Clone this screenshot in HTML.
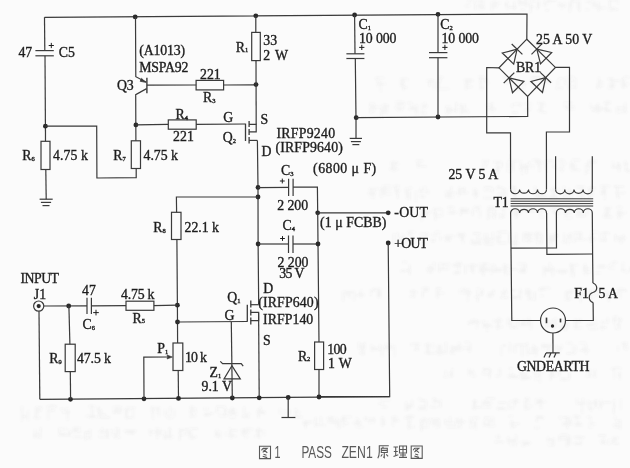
<!DOCTYPE html>
<html><head><meta charset="utf-8"><style>
html,body{margin:0;padding:0;background:#fbfbfb;}
svg{display:block;}
</style></head><body>
<svg width="630" height="468" viewBox="0 0 630 468">
<defs><filter id="bl" x="0" y="0" width="1" height="1"><feGaussianBlur stdDeviation="0.45"/></filter><filter id="gb" x="-0.05" y="-0.5" width="1.1" height="2"><feGaussianBlur stdDeviation="0.9"/></filter></defs>
<rect width="630" height="468" fill="#fbfbfb"/>
<g filter="url(#bl)">
<polyline points="44.5,17.3 527.0,14.0 526.8,39.2" fill="none" stroke="#3a3a3a" stroke-width="1.2"/>
<circle cx="135.2" cy="16.9" r="2.4" fill="#2a2a2a"/>
<circle cx="255.8" cy="15.8" r="2.4" fill="#2a2a2a"/>
<circle cx="354.6" cy="15.0" r="2.4" fill="#2a2a2a"/>
<circle cx="438.0" cy="14.3" r="2.4" fill="#2a2a2a"/>
<polyline points="44.5,17.3 44.8,50.6" fill="none" stroke="#3a3a3a" stroke-width="1.2"/>
<polyline points="35.4,50.6 53.8,50.6" fill="none" stroke="#3a3a3a" stroke-width="1.2"/>
<polyline points="35.4,55.8 53.8,55.8" fill="none" stroke="#3a3a3a" stroke-width="1.2"/>
<polyline points="45.0,55.8 45.5,141.3" fill="none" stroke="#3a3a3a" stroke-width="1.2"/>
<rect x="41.0" y="141.3" width="9.0" height="28.2" fill="none" stroke="#3a3a3a" stroke-width="1.2"/>
<polyline points="45.8,169.5 46.2,199.2" fill="none" stroke="#3a3a3a" stroke-width="1.2"/>
<polyline points="39.6,199.2 52.7,199.2" fill="none" stroke="#3a3a3a" stroke-width="1.2"/>
<polyline points="40.9,202.4 51.1,202.4" fill="none" stroke="#3a3a3a" stroke-width="1.2"/>
<polyline points="42.5,205.6 49.5,205.6" fill="none" stroke="#3a3a3a" stroke-width="1.2"/>
<circle cx="45.4" cy="126.2" r="2.4" fill="#2a2a2a"/>
<polyline points="45.4,126.2 96.7,126.0 96.9,178.0 136.2,177.6 136.2,168.5" fill="none" stroke="#3a3a3a" stroke-width="1.2"/>
<polyline points="135.5,16.9 135.8,76.7 146.5,82.3" fill="none" stroke="#3a3a3a" stroke-width="1.2"/>
<polyline points="146.9,77.8 146.9,93.2" fill="none" stroke="#3a3a3a" stroke-width="1.4"/>
<polyline points="146.6,88.6 135.7,94.6 135.9,140.8" fill="none" stroke="#3a3a3a" stroke-width="1.2"/>
<path d="M145.6,82.3 L140.2,81.3 L141.6,78.4 Z" fill="#3a3a3a" stroke="#3a3a3a" stroke-width="0.8"/>
<rect x="131.3" y="140.8" width="9.2" height="27.7" fill="none" stroke="#3a3a3a" stroke-width="1.2"/>
<circle cx="135.9" cy="124.9" r="2.4" fill="#2a2a2a"/>
<polyline points="147.0,85.1 196.1,85.0" fill="none" stroke="#3a3a3a" stroke-width="1.2"/>
<rect x="196.1" y="80.4" width="27.5" height="9.5" fill="none" stroke="#3a3a3a" stroke-width="1.2"/>
<polyline points="223.6,85.0 256.0,84.8" fill="none" stroke="#3a3a3a" stroke-width="1.2"/>
<circle cx="256.0" cy="84.6" r="2.4" fill="#2a2a2a"/>
<polyline points="135.9,124.9 168.0,124.4" fill="none" stroke="#3a3a3a" stroke-width="1.2"/>
<rect x="168.3" y="119.9" width="27.9" height="9.3" fill="none" stroke="#3a3a3a" stroke-width="1.2"/>
<polyline points="196.0,124.3 245.5,124.0" fill="none" stroke="#3a3a3a" stroke-width="1.2"/>
<polyline points="255.8,15.8 255.8,32.4" fill="none" stroke="#3a3a3a" stroke-width="1.2"/>
<rect x="251.7" y="32.4" width="8.6" height="28.2" fill="none" stroke="#3a3a3a" stroke-width="1.2"/>
<polyline points="256.0,60.6 256.2,124.4" fill="none" stroke="#3a3a3a" stroke-width="1.2"/>
<polyline points="245.5,123.7 245.5,141.0" fill="none" stroke="#3a3a3a" stroke-width="1.3"/>
<polyline points="249.1,121.0 249.1,127.0" fill="none" stroke="#3a3a3a" stroke-width="1.3"/>
<polyline points="249.1,129.0 249.1,135.0" fill="none" stroke="#3a3a3a" stroke-width="1.3"/>
<polyline points="249.1,137.0 249.1,143.6" fill="none" stroke="#3a3a3a" stroke-width="1.3"/>
<polyline points="249.1,124.4 256.2,124.4 256.2,131.8 249.1,131.8" fill="none" stroke="#3a3a3a" stroke-width="1.2"/>
<polyline points="249.1,140.4 257.4,140.4" fill="none" stroke="#3a3a3a" stroke-width="1.2"/>
<polyline points="257.4,140.4 258.0,187.4 258.1,244.0 258.7,304.6" fill="none" stroke="#3a3a3a" stroke-width="1.2"/>
<circle cx="258.0" cy="187.4" r="2.4" fill="#2a2a2a"/>
<circle cx="258.0" cy="197.0" r="2.4" fill="#2a2a2a"/>
<circle cx="258.1" cy="244.0" r="2.4" fill="#2a2a2a"/>
<polyline points="258.0,187.6 288.6,187.3" fill="none" stroke="#3a3a3a" stroke-width="1.2"/>
<polyline points="288.6,178.7 288.6,196.0" fill="none" stroke="#3a3a3a" stroke-width="1.2"/>
<polyline points="293.1,178.7 293.1,196.0" fill="none" stroke="#3a3a3a" stroke-width="1.2"/>
<polyline points="293.1,187.2 317.4,187.0 317.7,212.8" fill="none" stroke="#3a3a3a" stroke-width="1.2"/>
<circle cx="317.7" cy="212.8" r="2.4" fill="#2a2a2a"/>
<polyline points="317.7,212.8 388.2,212.8" fill="none" stroke="#3a3a3a" stroke-width="1.2"/>
<circle cx="388.2" cy="212.8" r="2.4" fill="#2a2a2a"/>
<polyline points="317.7,212.8 318.0,244.0 319.0,342.0" fill="none" stroke="#3a3a3a" stroke-width="1.2"/>
<rect x="314.6" y="342.0" width="9.0" height="27.5" fill="none" stroke="#3a3a3a" stroke-width="1.2"/>
<polyline points="319.0,369.5 319.0,396.7" fill="none" stroke="#3a3a3a" stroke-width="1.2"/>
<polyline points="258.1,244.0 288.5,244.0" fill="none" stroke="#3a3a3a" stroke-width="1.2"/>
<polyline points="288.5,235.5 288.5,253.0" fill="none" stroke="#3a3a3a" stroke-width="1.2"/>
<polyline points="293.0,235.5 293.0,253.0" fill="none" stroke="#3a3a3a" stroke-width="1.2"/>
<polyline points="293.0,244.0 318.0,244.0" fill="none" stroke="#3a3a3a" stroke-width="1.2"/>
<circle cx="318.0" cy="244.0" r="2.4" fill="#2a2a2a"/>
<circle cx="388.2" cy="243.0" r="2.4" fill="#2a2a2a"/>
<polyline points="388.2,243.0 389.7,396.7 319.0,396.7" fill="none" stroke="#3a3a3a" stroke-width="1.2"/>
<polyline points="258.0,197.0 176.4,197.0 176.6,212.3" fill="none" stroke="#3a3a3a" stroke-width="1.2"/>
<rect x="171.5" y="212.3" width="9.5" height="27.2" fill="none" stroke="#3a3a3a" stroke-width="1.2"/>
<polyline points="176.9,239.5 177.4,305.2 177.6,343.0" fill="none" stroke="#3a3a3a" stroke-width="1.2"/>
<circle cx="177.4" cy="305.2" r="2.4" fill="#2a2a2a"/>
<circle cx="177.5" cy="322.0" r="2.4" fill="#2a2a2a"/>
<rect x="173.0" y="343.0" width="9.8" height="27.5" fill="none" stroke="#3a3a3a" stroke-width="1.2"/>
<polyline points="178.2,370.5 178.5,398.0" fill="none" stroke="#3a3a3a" stroke-width="1.2"/>
<polyline points="177.5,322.0 247.3,321.5" fill="none" stroke="#3a3a3a" stroke-width="1.2"/>
<polyline points="247.3,304.7 247.3,321.8" fill="none" stroke="#3a3a3a" stroke-width="1.3"/>
<polyline points="250.8,300.4 250.8,307.5" fill="none" stroke="#3a3a3a" stroke-width="1.3"/>
<polyline points="250.8,309.5 250.8,315.5" fill="none" stroke="#3a3a3a" stroke-width="1.3"/>
<polyline points="250.8,317.5 250.8,324.4" fill="none" stroke="#3a3a3a" stroke-width="1.3"/>
<polyline points="250.8,304.7 258.6,304.7" fill="none" stroke="#3a3a3a" stroke-width="1.2"/>
<polyline points="250.8,312.4 258.6,312.4 258.6,320.6 250.8,320.6" fill="none" stroke="#3a3a3a" stroke-width="1.2"/>
<polyline points="258.6,312.4 259.2,398.0" fill="none" stroke="#3a3a3a" stroke-width="1.2"/>
<polyline points="39.8,399.3 389.7,396.7" fill="none" stroke="#3a3a3a" stroke-width="1.2"/>
<circle cx="70.5" cy="399.3" r="2.4" fill="#2a2a2a"/>
<circle cx="144.0" cy="398.8" r="2.4" fill="#2a2a2a"/>
<circle cx="178.5" cy="398.4" r="2.4" fill="#2a2a2a"/>
<circle cx="232.3" cy="398.0" r="2.4" fill="#2a2a2a"/>
<circle cx="259.2" cy="397.8" r="2.4" fill="#2a2a2a"/>
<circle cx="288.2" cy="397.5" r="2.4" fill="#2a2a2a"/>
<circle cx="319.0" cy="397.0" r="2.4" fill="#2a2a2a"/>
<polyline points="288.2,397.5 288.2,417.5" fill="none" stroke="#3a3a3a" stroke-width="1.2"/>
<polyline points="281.5,417.5 295.4,417.5" fill="none" stroke="#3a3a3a" stroke-width="1.2"/>
<circle cx="38.7" cy="306.1" r="5.1" fill="none" stroke="#3a3a3a" stroke-width="1.2"/>
<circle cx="38.7" cy="306.1" r="2.1" fill="#2a2a2a"/>
<polyline points="39.0,311.2 39.8,399.3" fill="none" stroke="#3a3a3a" stroke-width="1.2"/>
<polyline points="43.8,306.0 87.0,305.9" fill="none" stroke="#3a3a3a" stroke-width="1.2"/>
<polyline points="87.0,297.8 87.0,314.0" fill="none" stroke="#3a3a3a" stroke-width="1.2"/>
<polyline points="91.4,297.8 91.4,314.0" fill="none" stroke="#3a3a3a" stroke-width="1.2"/>
<polyline points="91.4,305.8 126.0,305.7" fill="none" stroke="#3a3a3a" stroke-width="1.2"/>
<rect x="126.0" y="301.2" width="27.9" height="9.1" fill="none" stroke="#3a3a3a" stroke-width="1.2"/>
<polyline points="153.9,305.6 177.4,305.2" fill="none" stroke="#3a3a3a" stroke-width="1.2"/>
<circle cx="68.7" cy="306.0" r="2.4" fill="#2a2a2a"/>
<polyline points="68.9,306.0 69.9,344.2" fill="none" stroke="#3a3a3a" stroke-width="1.2"/>
<rect x="65.2" y="344.2" width="10.0" height="27.4" fill="none" stroke="#3a3a3a" stroke-width="1.2"/>
<polyline points="70.3,371.6 70.6,399.3" fill="none" stroke="#3a3a3a" stroke-width="1.2"/>
<polyline points="144.0,398.8 143.8,357.2 168.5,357.0" fill="none" stroke="#3a3a3a" stroke-width="1.2"/>
<path d="M172.4,357.0 L167.0,355.0 L167.8,357.0 L167.0,359.0 Z" fill="#3a3a3a" stroke="#3a3a3a" stroke-width="0.6"/>
<polyline points="231.3,322.0 232.3,398.0" fill="none" stroke="#3a3a3a" stroke-width="1.2"/>
<path d="M231.9,365.7 L224.0,378.9 L240.3,378.9 Z" fill="none" stroke="#3a3a3a" stroke-width="1.2"/>
<path d="M220.3,361.3 L222.6,363.6 L241.2,363.6 L243.2,366.2" fill="none" stroke="#3a3a3a" stroke-width="1.2"/>
<polyline points="354.6,15.0 355.0,53.8" fill="none" stroke="#3a3a3a" stroke-width="1.2"/>
<polyline points="346.4,53.8 364.4,53.8" fill="none" stroke="#3a3a3a" stroke-width="1.2"/>
<polyline points="346.4,58.5 364.4,58.5" fill="none" stroke="#3a3a3a" stroke-width="1.2"/>
<polyline points="355.3,58.5 356.0,117.7 356.0,138.4" fill="none" stroke="#3a3a3a" stroke-width="1.2"/>
<polyline points="349.7,138.4 362.0,138.4" fill="none" stroke="#3a3a3a" stroke-width="1.2"/>
<polyline points="350.9,141.6 360.9,141.6" fill="none" stroke="#3a3a3a" stroke-width="1.2"/>
<polyline points="352.4,144.6 359.3,144.6" fill="none" stroke="#3a3a3a" stroke-width="1.2"/>
<circle cx="356.2" cy="117.7" r="2.4" fill="#2a2a2a"/>
<polyline points="356.2,117.7 527.7,116.4 527.6,96.5" fill="none" stroke="#3a3a3a" stroke-width="1.2"/>
<circle cx="438.0" cy="117.0" r="2.4" fill="#2a2a2a"/>
<polyline points="438.0,14.3 438.0,52.6" fill="none" stroke="#3a3a3a" stroke-width="1.2"/>
<polyline points="429.0,52.6 447.4,52.6" fill="none" stroke="#3a3a3a" stroke-width="1.2"/>
<polyline points="429.0,57.7 447.4,57.7" fill="none" stroke="#3a3a3a" stroke-width="1.2"/>
<polyline points="438.0,57.7 438.0,117.0" fill="none" stroke="#3a3a3a" stroke-width="1.2"/>
<polyline points="526.8,39.2 499.0,67.8 527.6,96.5 555.4,67.4 526.8,39.2" fill="none" stroke="#3a3a3a" stroke-width="1.2"/>
<path d="M517.1,49.2 L513.7,64.1 L502.3,53.0 Z" fill="none" stroke="#3a3a3a" stroke-width="1.2"/>
<path d="M522.4,54.4 L511.7,44.0" fill="none" stroke="#3a3a3a" stroke-width="1.2"/>
<path d="M536.8,49.1 L551.7,52.5 L540.5,63.9 Z" fill="none" stroke="#3a3a3a" stroke-width="1.2"/>
<path d="M542.1,43.7 L531.5,54.4" fill="none" stroke="#3a3a3a" stroke-width="1.2"/>
<path d="M509.0,77.8 L523.9,81.4 L512.5,92.7 Z" fill="none" stroke="#3a3a3a" stroke-width="1.2"/>
<path d="M514.3,72.6 L503.7,83.1" fill="none" stroke="#3a3a3a" stroke-width="1.2"/>
<path d="M545.7,77.6 L542.5,92.5 L530.9,81.5 Z" fill="none" stroke="#3a3a3a" stroke-width="1.2"/>
<path d="M551.1,82.8 L540.2,72.4" fill="none" stroke="#3a3a3a" stroke-width="1.2"/>
<polyline points="499.0,67.8 486.7,67.5 486.7,132.8 510.5,132.8 510.6,189.5" fill="none" stroke="#3a3a3a" stroke-width="1.2"/>
<polyline points="555.4,67.4 569.5,67.3 569.5,132.0 546.4,132.0 546.5,189.5" fill="none" stroke="#3a3a3a" stroke-width="1.2"/>
<path d="M510.6,189.5 A4.49,4.26 0 0 0 519.6,189.5 A4.49,4.26 0 0 0 528.5,189.5 A4.49,4.26 0 0 0 537.5,189.5 A4.49,4.26 0 0 0 546.5,189.5" fill="none" stroke="#3a3a3a" stroke-width="1.2"/>
<polyline points="555.6,156.3 555.6,189.5" fill="none" stroke="#3a3a3a" stroke-width="1.2"/>
<polyline points="592.3,156.3 592.3,189.5" fill="none" stroke="#3a3a3a" stroke-width="1.2"/>
<path d="M555.6,189.5 A4.59,4.36 0 0 0 564.8,189.5 A4.59,4.36 0 0 0 574.0,189.5 A4.59,4.36 0 0 0 583.1,189.5 A4.59,4.36 0 0 0 592.3,189.5" fill="none" stroke="#3a3a3a" stroke-width="1.2"/>
<polyline points="510.6,198.8 593.2,198.8" fill="none" stroke="#3a3a3a" stroke-width="1.0"/>
<polyline points="510.6,201.2 593.2,201.2" fill="none" stroke="#3a3a3a" stroke-width="1.0"/>
<polyline points="510.6,203.6 593.2,203.6" fill="none" stroke="#3a3a3a" stroke-width="1.0"/>
<polyline points="510.6,206.0 593.2,206.0" fill="none" stroke="#3a3a3a" stroke-width="1.0"/>
<path d="M510.6,213.0 A4.49,4.26 0 0 1 519.6,213.0 A4.49,4.26 0 0 1 528.5,213.0 A4.49,4.26 0 0 1 537.5,213.0 A4.49,4.26 0 0 1 546.5,213.0" fill="none" stroke="#3a3a3a" stroke-width="1.2"/>
<path d="M556.4,213.0 A4.49,4.26 0 0 1 565.4,213.0 A4.49,4.26 0 0 1 574.3,213.0 A4.49,4.26 0 0 1 583.3,213.0 A4.49,4.26 0 0 1 592.3,213.0" fill="none" stroke="#3a3a3a" stroke-width="1.2"/>
<polyline points="510.6,213.0 511.8,320.5 540.4,320.5" fill="none" stroke="#3a3a3a" stroke-width="1.2"/>
<polyline points="546.6,213.0 546.9,254.4 592.6,254.0" fill="none" stroke="#3a3a3a" stroke-width="1.2"/>
<polyline points="556.4,213.0 556.5,247.8 510.9,248.2" fill="none" stroke="#3a3a3a" stroke-width="1.2"/>
<polyline points="592.3,213.0 592.6,254.0 592.9,283.0" fill="none" stroke="#3a3a3a" stroke-width="1.2"/>
<path d="M592.9,283 C598,285 598,291 592.9,292.5 C588,294 588,301 593.1,302.6" fill="none" stroke="#3a3a3a" stroke-width="1.2"/>
<polyline points="593.1,302.6 593.3,320.5 565.3,320.5" fill="none" stroke="#3a3a3a" stroke-width="1.2"/>
<circle cx="553" cy="320.5" r="12.5" fill="none" stroke="#3a3a3a" stroke-width="1.2"/>
<polyline points="546.5,317.6 546.5,323.2" fill="none" stroke="#3a3a3a" stroke-width="1.6"/>
<polyline points="560.5,318.6 560.5,322.4" fill="none" stroke="#3a3a3a" stroke-width="1.6"/>
<circle cx="552.5" cy="326.0" r="1.7" fill="#2a2a2a"/>
<polyline points="552.9,333.0 553.0,352.9" fill="none" stroke="#3a3a3a" stroke-width="1.2"/>
<path d="M546,352.9 L559.7,352.9 M546,352.9 L544,357.5 M551,352.9 L549,357.5 M556,352.9 L554,357.5" fill="none" stroke="#3a3a3a" stroke-width="1.2"/>
<path d="M468.3,-0.4h3.7 M475.0,0.1v3.7 M467.2,1.9h3.4 M475.4,2.2v7.7 M465.2,6.0h4.5 M478.5,0.7h5.2 M480.0,1.9v8.1 M478.3,5.6h3.4 M479.7,7.2h5.2 M483.0,0.5v9.4 M493.0,2.6h5.4 M491.3,6.3h6.6 M494.7,3.1h6.0 M491.9,1.8v9.3 M494.7,0.8v7.0 M514.4,1.4v8.3 M506.6,7.4h10.0 M507.1,0.9v8.3 M504.7,4.5h3.8 M518.6,2.0h9.1 M519.2,4.4h9.2 M526.5,0.4v6.3 M520.8,9.6h4.1 M517.9,1.8h6.4 M519.9,-1.0v6.4 M537.6,1.6v7.9 M530.6,3.5v9.2 M538.8,1.0v6.2 M530.2,6.6h3.5 M531.4,0.9h3.4 M530.4,0.8h5.5 M544.6,0.3v5.8 M546.4,0.5h10.0 M543.3,4.8h3.7 M546.3,2.2h4.1 M545.1,10.4h4.0 M559.3,2.2v3.7 M561.7,3.5v5.8 M558.0,5.5h7.5 M564.7,2.8v4.6 M571.5,1.6v5.8 M570.1,-0.7h4.8 M579.5,1.2v10.5 M579.5,0.8v4.8 M569.8,1.4h7.4 M578.2,1.4v8.2 M569.9,2.3v10.3 M585.2,1.1h5.3 M592.7,1.0v6.2 M590.0,-0.1v4.0 M585.2,9.9h4.0 M592.8,2.3v5.8 M597.9,8.6h3.7 M596.5,3.9v4.6 M595.3,0.1v7.0 M598.6,1.7v9.7 M598.6,7.9h7.6 M617.7,-0.3v4.2 M611.1,9.5h7.3 M609.6,-0.3v8.0 M610.7,-0.3h6.7 M611.5,8.3h3.4 M608.4,-0.5h6.2 M608.3,9.7h5.3 M378.0,79.7v6.8 M380.7,81.4v10.5 M376.8,83.7h8.9 M374.8,78.5h3.5 M375.7,77.9h8.5 M402.9,87.6h4.5 M403.4,79.4v10.9 M400.8,79.2v7.1 M400.3,79.3h8.1 M400.8,83.6h3.1 M401.0,84.5h3.5 M428.6,80.3h4.3 M434.0,81.2v8.4 M429.5,79.7v7.1 M426.1,80.9h8.6 M438.4,77.2h4.8 M440.4,78.3v4.0 M439.7,88.9h9.4 M438.5,80.5v10.5 M465.2,80.7h8.3 M464.7,83.0h5.4 M464.1,80.0h8.1 M466.1,79.4v10.5 M465.7,86.8h6.5 M480.4,78.1v4.8 M479.9,87.6h4.0 M487.8,81.2v3.1 M486.7,79.2v3.4 M481.2,79.5v10.8 M484.6,77.2v4.5 M478.5,77.0h5.3 M506.4,78.8v3.0 M505.0,82.7h4.4 M504.1,77.1h3.6 M503.1,77.5h5.1 M523.9,81.4v6.1 M516.6,88.8h8.1 M516.5,81.2v10.1 M524.1,81.1v4.1 M519.3,83.1h8.6 M531.5,77.5h9.7 M529.2,82.4h3.1 M530.1,79.9h6.2 M532.6,88.2h3.6 M530.9,85.9h8.7 M544.3,80.7v10.8 M543.9,81.6h7.8 M548.8,80.2v3.6 M545.0,80.0h5.1 M542.1,77.3v5.2 M558.2,79.6v6.7 M558.6,78.4h4.4 M565.3,77.1v6.7 M565.6,79.2v5.1 M555.8,88.3h7.1 M569.5,81.1v7.1 M575.7,78.2v10.2 M568.0,77.3h6.4 M568.6,80.6h5.4 M568.0,87.1h8.3 M569.3,81.6v8.7 M597.5,81.7h3.5 M602.3,81.3v5.2 M596.5,84.9h4.0 M598.8,78.6v9.2 M598.7,77.1v9.1 M596.2,87.5h4.4 M609.6,86.0h5.0 M607.5,88.1h6.3 M610.0,80.6h9.8 M608.2,84.9h6.9 M607.6,79.0h4.5 M612.5,78.1v10.3 M611.9,77.7v4.5 M623.5,78.8v9.5 M623.5,77.2h5.7 M622.3,78.4v9.0 M621.4,83.9h7.8 M623.4,86.5h3.6 M624.2,80.2v6.5 M371.1,107.1h8.6 M373.4,102.4v10.4 M373.8,104.3v6.6 M370.5,102.8v10.8 M381.0,111.3h3.9 M381.4,105.6v10.7 M386.8,104.2v9.1 M384.8,105.6h4.3 M381.0,111.5h6.8 M384.1,103.6v9.7 M383.2,108.3h3.2 M397.5,104.3h7.5 M395.7,104.7h5.6 M396.9,110.3h5.5 M395.2,102.1h8.9 M394.8,107.9h8.4 M395.1,107.6h9.2 M416.9,104.4v10.3 M410.7,109.1h3.4 M408.7,109.2h8.0 M409.8,107.4h5.2 M407.7,103.0h4.3 M412.8,104.3v5.5 M416.2,106.9v6.5 M423.8,106.2h3.9 M422.3,103.8v9.6 M424.8,102.2v6.8 M420.8,113.0h5.5 M447.6,109.5h5.6 M446.2,111.6h4.4 M447.5,109.3h5.3 M446.5,105.7v8.5 M449.3,105.6v7.8 M456.4,102.3v9.6 M447.9,110.6h8.4 M460.5,104.5v3.1 M462.3,105.5v4.2 M460.8,112.3h8.5 M464.6,104.0v4.3 M460.9,109.8h6.8 M459.4,107.1h3.5 M461.3,104.1v10.9 M487.7,109.4h8.2 M492.3,102.6v9.7 M486.5,108.8h8.2 M486.0,105.0h4.1 M491.4,103.6v6.2 M512.1,104.3v3.3 M511.9,112.6h6.1 M511.9,112.5h3.4 M520.1,103.0v3.6 M513.4,104.1h8.4 M526.5,109.2h4.5 M524.8,103.7h4.8 M531.2,103.0v3.1 M524.7,110.1h5.2 M537.4,102.8h5.8 M544.0,102.5v4.3 M541.5,103.4v5.5 M540.4,104.8v5.9 M541.0,112.4h5.5 M537.8,110.7h3.0 M541.7,106.1v6.2 M563.6,102.6h8.6 M566.7,108.9h8.2 M563.6,106.2h4.2 M566.0,106.6h8.5 M566.3,106.2v3.3 M591.8,110.5h9.2 M598.4,105.1v7.9 M591.3,107.7h3.3 M590.7,103.8v4.2 M598.0,103.0v10.1 M596.4,105.3v5.6 M592.4,107.5h8.4 M606.7,105.3v6.6 M604.5,102.3h6.4 M605.1,111.2h6.2 M602.4,107.7h3.9 M603.8,103.1h6.6 M602.3,109.6h8.1 M616.5,108.0h9.7 M619.0,112.3h8.1 M617.1,106.9v6.9 M625.1,102.8v9.3 M391.8,161.6v7.9 M394.0,161.3v10.7 M391.5,167.1h4.7 M390.6,162.4h7.5 M390.5,163.9h8.5 M389.2,169.2h9.0 M418.4,166.4h8.2 M416.5,164.5h4.0 M415.9,161.0h7.3 M418.3,162.6v5.5 M482.5,163.5h5.9 M482.0,160.6h7.3 M482.3,160.7h5.1 M481.7,166.4h5.1 M498.2,160.7v10.5 M493.4,161.8h7.5 M501.6,162.0v5.1 M495.2,167.7h5.5 M497.9,164.7v8.9 M493.2,170.8h6.7 M506.4,170.9h7.3 M508.2,162.1v7.1 M513.1,162.1v7.9 M508.5,160.8h10.0 M511.3,162.7v6.0 M519.7,167.9h10.0 M519.5,167.7h9.2 M529.4,161.3v3.4 M526.5,163.4v10.3 M522.3,164.6v10.2 M519.7,166.1h9.3 M521.2,160.8v10.3 M535.6,162.9h7.4 M539.3,164.9v6.8 M539.7,164.3v6.5 M538.3,161.5v4.7 M532.9,164.6v4.2 M535.7,161.3h5.4 M532.2,160.3h7.8 M545.7,163.0v5.9 M554.0,164.5v3.5 M555.1,164.7v3.9 M545.1,161.3h8.9 M564.9,161.4v3.8 M558.8,169.1h5.2 M559.0,160.3h5.0 M562.0,161.6v10.7 M571.3,162.1v6.5 M574.8,163.5v7.3 M571.4,170.3h8.7 M571.8,160.0h8.3 M571.0,162.5v6.9 M573.0,162.5v5.8 M585.7,164.1v10.5 M587.8,162.0h8.4 M586.2,171.9h3.7 M587.7,161.1h9.2 M588.6,163.2v6.0 M586.2,165.1h4.2 M612.8,167.1h7.2 M612.1,167.0h9.1 M611.3,166.6h6.2 M612.8,161.2v5.7 M617.7,162.5v5.1 M619.1,163.1v8.8 M618.0,163.0v5.8 M627.0,171.5h4.2 M625.1,160.8v4.2 M624.1,163.6h3.8 M626.1,164.4v6.7 M624.7,170.3h4.6 M367.6,193.2h8.2 M370.7,188.9v9.0 M368.9,188.7h9.2 M373.7,190.3v8.4 M381.8,189.1h9.3 M381.9,190.8h4.1 M384.3,186.1v9.9 M382.5,193.9h9.3 M382.3,186.1h9.4 M379.9,189.0h8.0 M381.2,187.7v9.8 M397.6,189.2v9.6 M395.8,190.9h4.5 M396.3,189.8v4.0 M395.9,186.3v5.2 M393.7,186.2h5.9 M406.2,187.5v6.2 M415.7,191.0v10.7 M408.7,188.0h3.5 M407.1,189.2v8.8 M406.6,189.3v9.6 M409.5,191.0v9.1 M419.1,196.2h5.6 M418.7,191.1h3.0 M421.1,187.2v5.4 M420.5,191.1h7.6 M421.4,197.1h3.4 M428.0,189.9v4.1 M425.0,186.1v3.1 M450.4,190.3v4.5 M444.8,195.4h5.8 M446.8,193.3h9.8 M446.2,196.8h7.5 M444.9,191.9h3.6 M451.4,186.6v3.9 M458.9,192.7h9.3 M459.7,186.8v7.8 M458.8,187.6v8.6 M458.9,189.6h6.0 M464.4,186.9v5.9 M477.5,190.7v5.6 M475.6,188.4v10.2 M472.5,194.6h5.4 M474.0,188.4v7.2 M484.0,190.1h3.4 M485.0,190.3h5.3 M492.6,187.7v4.6 M483.8,187.4h8.0 M483.4,197.7h10.0 M497.2,186.6h3.0 M498.4,197.1h7.6 M506.0,189.1v7.9 M503.7,189.0v8.4 M497.8,194.0h8.3 M496.1,188.2h8.4 M503.2,187.8v9.6 M511.0,186.2v3.2 M515.4,190.6v7.0 M512.1,195.9h5.9 M513.5,186.3v8.4 M519.9,189.3v4.2 M515.0,186.4v6.8 M535.5,194.2h9.8 M535.5,196.4h3.1 M537.7,189.7v4.5 M537.9,195.3h9.0 M535.9,189.1v8.7 M536.0,197.2h9.8 M535.1,186.1v8.2 M550.4,189.7h9.7 M554.7,187.6v10.6 M553.2,186.8v10.7 M548.7,197.4h8.6 M569.6,188.8v5.3 M563.8,197.7h8.8 M564.9,193.3h8.8 M564.4,188.1v10.1 M563.4,194.2h9.3 M564.1,186.0v5.1 M564.3,193.0h9.2 M583.5,188.9v5.2 M582.9,189.4v10.3 M576.2,187.0h8.6 M577.7,195.0h4.6 M581.5,188.3v4.7 M592.1,186.4v9.5 M589.6,188.9v10.2 M592.7,188.4v7.7 M587.7,188.3h7.9 M600.6,192.2h3.3 M604.1,186.5v8.1 M601.7,189.0v5.8 M600.1,186.2h9.9 M605.3,188.8v5.1 M604.7,190.7v9.1 M613.8,186.5h4.3 M615.2,186.6h9.1 M616.6,197.4h3.4 M617.4,186.6v10.7 M615.6,192.8h9.7 M421.5,216.2h4.6 M421.9,210.7v10.5 M420.1,212.6h9.4 M423.0,212.2h8.3 M421.3,207.2h3.0 M422.4,215.0h6.1 M425.2,207.9v6.1 M433.6,208.9h7.7 M433.8,214.6h3.3 M435.4,210.7v9.9 M434.5,208.2v3.8 M442.3,209.1v6.6 M434.9,215.9h7.4 M433.2,208.7h8.0 M447.7,207.8h4.7 M447.2,212.9h8.6 M447.8,207.3h6.4 M448.5,212.2h8.5 M452.2,210.2v4.0 M460.0,209.1h4.7 M459.6,211.0h8.8 M460.6,209.2v6.5 M460.8,212.1h8.5 M462.2,207.8v3.3 M459.7,209.3h8.9 M474.2,206.4v3.7 M477.5,207.4v4.6 M479.8,210.1v7.7 M474.9,206.8h5.9 M472.6,210.1v5.7 M488.1,210.9h3.9 M487.7,208.8v10.9 M487.3,214.4h9.0 M488.9,217.2h3.5 M488.3,208.9h9.4 M494.5,208.9v10.2 M487.9,207.3h6.1 M498.9,217.6h4.3 M501.3,209.0h3.2 M498.8,214.4h3.1 M504.3,208.6v8.6 M500.9,216.4h3.3 M519.4,206.6v4.0 M517.0,207.1v4.8 M516.1,208.0v10.6 M513.8,213.6h7.2 M511.4,210.9v3.4 M514.4,210.8h8.0 M517.2,210.9v5.6 M526.7,207.8h5.5 M531.3,206.1v3.9 M524.8,209.9h7.7 M525.6,211.0h10.0 M546.7,210.4v3.3 M539.9,209.4v5.2 M539.5,217.1h4.8 M540.8,211.2h5.0 M553.8,213.1h6.6 M552.1,211.6h4.0 M551.2,207.6h5.8 M550.4,208.9h6.8 M556.7,208.9v8.2 M565.5,212.6h6.3 M563.9,208.9h6.6 M563.0,213.0h5.5 M565.6,208.8v6.9 M564.2,217.9h8.4 M566.5,206.8h6.1 M579.9,209.8v7.2 M583.5,210.7v6.3 M577.5,207.0v7.9 M576.4,216.1h9.0 M587.0,207.3v8.0 M583.7,208.1v3.8 M576.5,212.6h5.8 M608.7,207.9v6.6 M603.2,214.7h5.7 M606.2,207.6v9.3 M607.5,208.2v4.5 M604.3,207.7h7.1 M603.3,217.0h8.9 M618.6,211.1h3.1 M617.0,212.8h9.4 M620.9,211.0v7.1 M616.6,214.2h5.5 M618.9,210.7v8.4 M616.5,207.2h5.8 M402.6,234.4v6.5 M403.0,233.7v7.2 M393.9,233.6v10.8 M397.6,232.6v10.2 M401.0,237.0v10.1 M405.8,241.8h9.3 M407.3,232.7h3.7 M411.9,235.6v8.5 M407.8,232.0h6.9 M409.4,232.5v3.1 M419.1,238.6h7.5 M420.3,244.0h5.9 M421.0,233.9h3.7 M420.1,234.0h8.8 M426.9,232.3v3.1 M432.1,234.9h3.2 M440.5,236.7v3.5 M431.1,239.5h4.5 M431.2,241.2h3.4 M431.6,234.7h7.1 M434.5,232.1h6.2 M449.5,236.7v4.9 M444.9,240.6h5.2 M449.3,236.0v4.9 M444.7,236.3h9.8 M444.5,238.7h6.7 M444.3,236.8h3.9 M461.3,234.3v5.8 M457.1,235.3h8.6 M457.8,233.6h6.8 M463.1,234.3v9.4 M457.9,236.4h5.8 M463.4,233.5v6.8 M480.4,237.0v7.8 M472.1,243.9h5.8 M473.0,233.5h7.7 M472.9,242.2h8.4 M470.6,240.6h3.1 M477.6,235.9v4.9 M470.3,242.7h9.4 M483.4,240.6h5.0 M487.4,233.8v9.8 M485.5,239.5h9.0 M484.9,233.8v9.4 M492.9,232.1v8.6 M484.6,244.0h9.3 M498.9,243.0h8.0 M496.6,232.5h4.4 M496.2,236.6h5.2 M498.0,236.2v7.6 M498.8,234.2v8.5 M499.3,232.0h8.4 M515.4,235.5v10.8 M509.4,233.6v9.2 M510.7,243.0h8.2 M515.8,233.1v7.2 M524.0,236.1h7.8 M528.9,234.5v8.4 M525.4,240.1h8.4 M525.8,234.3h8.8 M523.9,232.8v9.2 M525.9,235.1h4.2 M524.5,233.1h4.0 M537.6,233.2v7.1 M536.4,243.2h5.1 M536.6,234.8v5.7 M541.0,235.8v4.4 M541.6,234.3v9.1 M536.3,233.4v5.9 M536.1,232.7h4.4 M549.8,234.2v7.6 M548.2,238.7h6.3 M553.3,235.7v5.7 M550.9,235.2v10.7 M549.3,241.4h5.5 M550.5,235.4h8.1 M555.2,232.4v9.0 M564.3,232.9v8.1 M571.2,232.8v9.3 M569.2,233.6v4.5 M564.5,233.8v7.4 M562.0,242.0h3.3 M567.9,236.1v8.6 M571.4,234.5v7.0 M580.9,232.7v4.8 M575.6,239.6h9.9 M579.3,233.1v6.0 M577.3,239.3h6.6 M574.2,232.9h8.0 M574.7,232.0v10.6 M590.2,232.1h7.7 M592.2,234.7v7.1 M589.5,238.4h4.1 M587.3,239.3h8.7 M590.6,235.3v7.5 M601.2,239.8h5.4 M600.3,232.9v8.4 M602.6,233.0h5.6 M604.6,234.6v7.5 M600.7,233.4h9.2 M603.4,233.3h4.8 M615.5,234.3v7.3 M621.1,236.5v7.5 M620.5,236.0v4.1 M616.4,238.1h9.6 M623.6,234.6v6.7 M619.0,236.8v4.5 M400.2,271.3h4.7 M402.4,262.2h4.5 M401.7,270.5h9.2 M409.6,264.8v10.3 M434.1,262.1v5.0 M428.1,268.2h5.5 M427.4,271.8h5.5 M426.1,269.2h9.4 M428.8,266.3h3.1 M430.8,266.0v6.9 M440.2,268.7h7.8 M442.5,263.7h6.8 M447.9,266.7v3.1 M441.0,263.8h9.1 M439.4,262.9v9.5 M443.3,264.4v4.3 M454.1,273.5h5.5 M452.5,265.7h7.4 M454.9,271.8h5.3 M453.3,273.2h5.3 M453.0,264.7h9.1 M458.9,265.6v4.1 M456.0,262.8h5.5 M465.4,264.8v9.2 M473.5,265.2v8.1 M468.2,265.4h9.1 M472.5,263.5v9.1 M470.6,265.2v5.8 M480.7,270.5h9.2 M483.5,266.5v9.5 M479.7,263.0v10.1 M482.5,264.0v9.2 M484.5,262.7v8.8 M480.6,268.9h9.8 M481.7,264.3h7.1 M494.9,265.9v6.4 M491.7,264.4v10.2 M491.1,265.1h4.2 M491.9,270.5h5.8 M494.5,269.2h7.5 M494.9,270.8h7.2 M504.1,263.4v8.1 M504.1,265.9h5.3 M504.3,264.4v7.9 M505.9,266.3v9.4 M507.1,269.4h9.9 M507.5,273.3h3.2 M519.9,269.4h5.3 M517.6,263.9h8.4 M518.7,271.8h6.8 M523.1,265.3v7.8 M518.0,270.9h8.0 M525.5,263.5v9.2 M544.1,268.4h4.8 M544.1,266.0v10.8 M544.6,269.5h9.9 M549.9,262.6v7.3 M544.0,271.3h7.2 M552.9,266.4v9.8 M557.8,270.5h9.0 M559.6,272.9h5.7 M556.1,271.5h7.6 M559.7,271.7h7.7 M573.5,266.6v10.6 M571.5,263.3v5.1 M569.8,264.8h8.3 M572.3,267.0v4.7 M570.7,266.3v10.0 M585.1,263.7v6.9 M583.8,265.4v7.8 M585.5,269.0h4.5 M586.0,265.9v9.9 M586.0,272.4h5.1 M595.5,273.0h5.1 M598.0,266.2h6.3 M597.6,267.0h7.7 M598.6,266.0h7.1 M608.9,268.1h6.0 M612.0,262.2h5.2 M609.3,264.4v4.1 M610.7,264.1h4.0 M624.8,272.1h3.5 M630.4,266.9v4.8 M621.1,270.4h4.9 M623.2,262.2v9.3 M350.2,290.7v7.4 M353.8,292.4v8.7 M344.7,291.8h9.8 M344.6,292.6h4.0 M343.1,291.0v10.4 M344.5,295.3h4.7 M356.1,295.4h8.0 M358.7,294.7h6.1 M361.0,290.9v6.8 M361.2,289.7v7.4 M372.9,288.8h4.9 M378.1,288.4v9.4 M379.2,291.8v5.1 M378.4,289.7v7.7 M380.0,288.3v9.1 M369.7,290.5h5.6 M370.7,291.3v4.4 M411.5,292.3h6.0 M409.5,296.4h5.6 M413.7,289.5v8.3 M409.8,291.5h3.8 M422.6,291.4v5.9 M422.5,290.9h5.4 M421.8,288.2h7.0 M423.9,290.1h4.9 M424.3,290.9h3.6 M437.2,293.1h7.3 M435.8,288.5h5.6 M437.2,290.0v8.2 M437.9,289.9v7.6 M463.4,290.4h3.6 M461.7,292.7h9.6 M468.7,288.5v7.5 M467.7,290.2v11.0 M461.6,288.8h3.9 M460.1,289.2v4.6 M481.5,291.8v3.9 M476.3,288.9h3.7 M475.3,297.0h3.4 M480.8,290.4v3.4 M477.6,290.9v11.0 M482.6,288.7v5.7 M488.1,294.5h3.6 M487.2,296.0h5.8 M493.5,289.5v5.0 M488.2,293.2h5.1 M500.9,292.5h6.4 M503.0,292.0v4.6 M505.1,288.3v5.5 M501.3,292.9h5.3 M500.2,297.6h8.0 M512.8,296.7h4.4 M512.5,298.3h4.0 M521.0,290.5v3.1 M520.1,288.8v4.8 M520.2,292.0v7.3 M514.9,297.3h6.6 M512.4,290.4h3.4 M529.9,290.1v9.9 M526.5,288.8v6.6 M534.6,292.0v8.7 M528.4,289.3v7.4 M527.7,299.3h4.6 M528.6,288.8v5.3 M538.7,289.8h5.3 M539.4,288.5h7.6 M540.1,295.9h3.5 M541.1,288.2h9.2 M570.6,290.7v3.7 M567.6,291.3h8.9 M564.1,299.1h7.2 M567.8,292.7v8.3 M565.8,292.0h4.7 M566.0,291.9v5.4 M580.2,294.6h7.2 M579.1,288.4h3.7 M578.5,290.9v5.8 M577.7,296.0h4.2 M580.6,292.2v10.0 M577.4,289.8h9.2 M579.1,294.0h3.8 M590.5,289.3v10.6 M594.0,294.7h9.4 M595.9,289.2v3.8 M593.2,288.6h7.9 M590.3,296.9h4.2 M603.4,295.5h7.0 M603.9,296.0h4.7 M608.6,292.1v9.6 M603.4,292.0h4.5 M619.8,292.1v6.7 M616.1,292.7v6.3 M617.0,289.1h8.1 M617.7,289.7v4.1 M617.3,290.6h9.8 M469.3,323.3h3.5 M468.7,321.3v3.4 M470.6,321.9h9.8 M476.8,319.5v9.2 M470.8,320.1h5.1 M471.2,322.6h7.8 M470.6,321.6h9.6 M484.2,326.4h8.3 M483.6,319.9v7.5 M487.3,321.7v10.1 M482.6,325.0h7.4 M498.5,317.4v8.2 M497.7,320.0v9.7 M494.0,319.4v3.1 M495.7,326.7h7.2 M494.9,321.0h5.5 M500.8,318.5v3.7 M508.0,323.5h4.5 M511.1,321.5v6.1 M507.7,318.8h5.5 M516.7,321.8v5.5 M510.2,327.5h7.2 M517.7,319.0v3.1 M508.1,318.2v7.5 M530.8,320.7v9.0 M521.5,320.8v5.0 M521.3,323.2h4.9 M522.8,320.7h7.8 M528.9,317.3v8.2 M520.1,325.3h9.1 M549.6,326.0h8.1 M546.4,318.6v4.1 M555.8,317.7v7.7 M546.5,319.0v9.0 M549.1,320.8v5.3 M549.9,322.0h7.5 M553.4,318.9v10.7 M561.0,327.0h3.3 M559.8,327.7h8.7 M561.1,320.7h7.8 M565.5,321.9v9.2 M560.1,325.3h9.2 M562.7,324.4h5.8 M575.9,321.6h4.9 M573.8,327.9h8.9 M580.6,318.6v4.2 M577.2,319.8v8.4 M575.0,318.8v10.3 M574.5,320.5h4.8 M586.2,325.4h7.2 M588.5,328.8h9.1 M588.3,324.2h8.8 M595.2,317.8v4.4 M602.3,321.7v8.9 M601.2,321.7h5.4 M600.1,327.5h6.6 M607.9,317.7v5.7 M613.3,317.0h4.6 M613.9,319.6h8.5 M620.4,317.7v4.8 M613.6,317.6v5.3 M614.7,328.6h5.7 M614.5,324.8h5.7 M618.8,320.9v7.8 M361.4,343.8v7.6 M358.9,342.1v7.1 M358.9,353.4h6.2 M362.9,344.5v10.8 M364.6,342.2v7.3 M372.4,349.6h5.3 M373.4,346.0v4.7 M379.9,344.7v3.2 M371.3,344.5v6.4 M373.9,349.6h7.1 M373.4,348.1h4.6 M382.0,346.0v10.7 M384.5,347.7h6.2 M391.8,344.3v5.7 M385.1,346.8h4.4 M389.7,344.2v4.6 M386.2,343.3v7.5 M394.7,345.7v10.6 M410.1,344.5h9.0 M416.9,343.3v5.8 M414.0,349.6h5.1 M411.4,344.1h9.3 M426.8,346.3v5.9 M428.3,342.4v5.7 M426.9,352.8h8.9 M424.6,345.0h5.5 M433.3,343.0v5.2 M428.7,345.9v8.8 M424.7,352.8h4.0 M439.9,351.8h3.6 M438.2,344.9v10.3 M439.7,344.8v6.7 M445.9,342.0v4.6 M436.4,352.6h9.1 M440.8,344.9v10.4 M446.1,345.8v7.6 M452.4,349.8h9.9 M454.2,346.4v7.8 M450.5,348.0h7.9 M458.8,342.0v7.5 M451.5,345.7v8.2 M449.8,352.9h3.0 M452.8,346.8h9.7 M469.0,346.6v5.1 M465.0,342.2h3.7 M469.8,342.9v9.5 M462.4,348.1h8.5 M510.0,344.5v8.0 M509.8,342.4v3.4 M502.6,345.5h3.1 M501.3,346.1v9.5 M522.1,345.4v10.9 M514.9,344.6v8.4 M517.5,344.9h9.9 M515.2,345.3h5.1 M527.1,342.4v3.9 M533.6,344.6v6.6 M529.6,349.3h9.4 M535.8,346.6v9.7 M527.3,345.4v9.8 M527.7,352.5h9.6 M541.4,345.6h5.3 M543.9,347.3h7.6 M548.4,346.2v11.0 M543.0,343.2v6.3 M543.5,344.8h9.4 M561.7,344.7v3.8 M556.5,345.1v5.9 M553.6,353.6h6.7 M558.9,346.7v6.3 M560.6,346.8v3.7 M575.7,345.6v6.5 M568.4,353.4h7.3 M567.1,353.4h5.7 M566.4,353.5h9.1 M572.8,345.3v8.9 M566.3,342.8h5.7 M579.3,342.9h6.9 M586.1,344.6v10.0 M584.0,346.5v5.0 M579.7,350.4h9.9 M618.3,346.1v4.8 M626.8,345.4v5.2 M621.6,344.3h4.1 M624.5,345.3v4.4 M621.9,343.2h5.7 M624.3,343.1v3.5 M445.9,370.7v4.4 M443.5,376.8h4.2 M451.6,372.5v4.3 M452.3,368.2v8.2 M450.4,372.3v4.9 M471.3,376.0h4.6 M468.5,373.3h6.2 M469.0,368.6v6.8 M469.8,370.8h3.8 M482.4,370.9h3.4 M481.9,373.8h7.3 M491.2,369.9v3.5 M483.1,368.7h6.6 M482.9,369.2h6.3 M489.6,368.7v9.5 M495.4,376.0h3.8 M499.3,368.9v3.1 M499.7,368.1v6.8 M499.9,369.2v7.0 M510.8,377.6h8.2 M511.0,372.5v4.5 M510.6,375.2h3.6 M508.8,368.4h4.0 M509.3,377.0h9.6 M507.1,376.1h9.6 M523.0,378.2h7.7 M520.8,378.9h6.3 M521.1,377.4h9.8 M520.3,368.9v6.3 M526.3,371.9v4.9 M521.7,372.1v7.9 M521.5,374.6h4.8 M534.6,368.7v7.2 M542.8,368.3v4.9 M534.8,375.0h5.9 M540.3,372.3v10.7 M534.6,379.3h3.4 M534.1,368.1v5.3 M550.6,370.6v9.8 M553.2,370.6v3.9 M548.3,375.9h8.6 M556.6,369.0v3.6 M552.3,368.9v8.5 M560.0,379.5h8.8 M559.6,371.4v4.7 M560.8,379.0h5.4 M569.5,372.4v6.7 M562.9,379.7h3.6 M594.9,369.2v8.9 M588.1,376.0h3.9 M586.1,370.6h3.2 M586.7,372.9h3.5 M595.4,370.9v5.8 M589.8,368.9v6.9 M585.6,376.1h5.6 M618.8,372.8v4.6 M614.3,369.3v9.6 M620.3,372.4v7.7 M613.1,368.2h8.1 M611.0,368.8h4.2 M381.6,400.1h8.5 M378.3,398.3h3.6 M378.3,403.6h5.4 M381.5,407.0h5.3 M406.8,405.5h4.8 M412.0,399.7v6.9 M406.2,409.1h3.4 M405.5,406.3h8.0 M407.2,407.6h3.7 M406.1,401.5v9.4 M426.1,400.4v6.5 M417.9,409.2h8.9 M419.0,407.0h6.7 M417.9,398.7h3.2 M419.9,400.5h6.2 M432.7,401.7h4.8 M433.1,400.7h8.8 M440.5,402.0v5.5 M430.2,406.7h7.3 M432.1,398.6h4.1 M471.9,407.4h9.1 M474.2,399.6v3.6 M475.9,400.2v3.5 M474.6,400.2v9.8 M473.6,401.5v7.3 M483.2,400.3v8.1 M485.9,398.4h9.4 M484.5,403.6h5.1 M485.1,407.0h6.1 M482.4,402.7h9.7 M485.1,401.5h3.9 M497.4,407.8h5.8 M498.2,402.6h8.0 M496.8,408.7h6.9 M498.8,409.3h8.0 M514.6,399.4v6.7 M516.1,398.6v4.5 M509.2,402.1v5.7 M509.9,401.1h9.9 M509.3,408.3h4.2 M528.3,398.3v3.0 M524.1,402.1h4.8 M525.0,398.5h4.6 M524.8,408.6h5.1 M525.3,399.4v10.5 M524.0,406.1h8.4 M541.1,398.3v10.1 M535.2,399.8h6.5 M535.2,403.2h4.7 M541.4,398.3v10.2 M537.1,401.8h9.0 M582.3,402.9v10.6 M576.0,403.5h8.9 M577.0,398.3v3.9 M582.9,398.1v6.0 M588.2,400.3v6.2 M596.5,399.5v8.1 M591.2,402.5v8.9 M588.3,408.5h3.7 M595.1,400.6v6.9 M588.7,408.6h4.5 M589.8,402.4h7.9 M599.1,404.8h3.9 M601.0,399.5v7.1 M600.1,402.0v7.8 M602.8,402.4h8.2 M614.2,399.5v5.6 M614.1,400.7v7.0 M613.6,402.8v11.0 M620.7,398.9v10.3 M304.0,420.6v4.7 M303.6,422.0h9.3 M305.6,420.7v7.5 M303.2,423.6h6.0 M315.6,417.1v8.0 M316.2,425.3h9.3 M315.2,425.4h4.6 M315.6,416.9v10.0 M320.9,416.5v6.7 M315.4,420.2v6.4 M330.9,416.4v3.6 M333.5,416.7v6.7 M337.0,417.7v9.1 M326.6,418.4h5.9 M329.3,416.8v4.7 M327.3,418.3h6.5 M327.8,421.8h9.8 M341.4,418.4h4.0 M341.8,416.9h9.8 M340.7,420.2h5.5 M343.3,416.8v9.9 M339.1,420.2v8.8 M342.7,423.6h5.8 M355.0,423.8h3.0 M358.9,419.4v6.2 M352.9,422.9h8.6 M354.6,422.6h5.0 M355.9,426.9h7.3 M356.8,417.4v7.2 M370.2,417.7v6.1 M373.6,417.3v6.0 M368.7,420.4h6.8 M368.3,420.0h4.1 M365.2,417.0v3.5 M366.6,417.1v3.5 M384.1,420.6v3.7 M382.8,417.0v9.0 M382.2,416.5v10.0 M384.6,420.9v3.3 M393.8,419.9h4.2 M391.8,417.3h5.5 M393.2,416.6v9.9 M392.8,420.9h6.4 M407.2,426.7h7.4 M408.9,419.1v10.2 M410.0,420.4v3.1 M406.5,416.3h7.6 M404.2,417.8h8.5 M419.8,420.6h3.0 M425.6,418.6v3.0 M421.6,419.3v7.6 M421.5,420.8v10.6 M423.8,417.6v6.0 M420.2,426.8h8.5 M427.9,419.4v5.5 M433.7,418.9v7.4 M439.4,420.9v6.9 M430.5,418.1v3.7 M432.0,419.5h7.9 M430.5,423.1h5.6 M436.7,418.2v10.1 M450.1,416.5v7.0 M445.4,419.3v5.2 M446.8,427.0h10.0 M446.2,422.9h8.3 M457.9,427.4h3.8 M457.6,419.4v3.4 M462.0,419.7v4.0 M460.1,417.2v9.5 M456.3,421.7h9.0 M456.4,418.3v6.8 M469.7,427.2h4.0 M470.3,416.9v7.0 M472.7,418.0h6.3 M471.8,420.6v4.8 M475.7,420.9v9.2 M474.9,420.3v6.5 M489.5,419.7v4.9 M485.8,425.9h9.5 M484.2,424.2h5.8 M483.9,417.6h6.5 M484.2,420.4h8.3 M483.8,420.4v5.9 M492.8,416.7v7.7 M508.8,416.3h3.9 M510.3,423.6h9.6 M512.0,420.7v8.1 M510.7,426.4h5.5 M511.3,420.8v5.0 M536.1,416.9h7.6 M536.6,416.6v5.3 M536.3,418.3h7.7 M534.4,427.7h5.0 M562.1,424.5h4.3 M570.9,420.5v4.8 M562.3,417.5h8.2 M567.4,417.9v10.9 M562.8,423.2h6.0 M569.8,418.6v6.4 M560.2,416.1v3.4 M575.2,424.7h5.5 M575.8,416.7v4.3 M576.2,423.1h4.1 M575.2,422.9h5.9 M573.2,416.2h6.0 M574.0,425.1h8.8 M574.9,417.1h5.7 M589.3,424.0h6.2 M588.4,427.1h4.3 M587.3,417.0h3.6 M590.7,417.5v7.1 M615.7,421.2h3.7 M614.3,427.1h6.5 M620.1,419.7v9.5 M615.1,416.2v3.4 M612.8,425.0h5.8 M494.4,441.9h9.3 M495.6,436.7h4.4 M498.0,442.2h5.3 M494.9,442.0h5.8 M498.7,434.8v3.6 M508.1,436.5v6.9 M509.0,442.0h8.7 M510.3,445.2h6.3 M507.5,439.8h7.8 M513.4,438.9v3.4 M515.8,434.6v5.6 M521.5,442.3h8.0 M521.8,445.7h3.0 M523.5,442.7h7.5 M522.9,444.5h3.8 M520.0,442.1h3.3 M524.0,444.5h5.2 M553.1,438.7v7.5 M547.9,440.2h5.4 M548.4,440.1h4.6 M548.0,440.0h5.9 M548.0,436.7v5.2 M553.7,437.9v7.1 M548.0,445.1h5.6 M559.4,435.3v5.6 M567.0,438.3v8.7 M560.4,435.0h7.6 M569.8,436.2v8.9 M559.1,438.4h6.8 M560.7,438.9h7.3 M568.6,435.5v9.4 M574.9,443.5h6.4 M573.9,437.2h8.0 M581.3,438.3v6.5 M575.9,437.8h4.3 M575.7,437.4h9.0 M575.6,444.2h6.0 M573.5,443.3h3.8 M608.9,438.9v6.1 M600.9,443.4h3.8 M598.1,435.5h8.0 M600.3,441.0h4.6 M601.4,442.5h4.7 M601.5,443.3h3.8 M603.7,438.3v3.7 M612.7,437.7h5.5 M612.3,438.9v4.9 M613.7,436.9v6.0 M614.2,443.6h4.9 M616.3,438.9v3.4 M21.9,409.0v6.8 M21.8,410.8v10.8 M28.2,410.7v10.0 M22.8,416.5h3.5 M22.0,406.0v6.3 M33.7,417.8h6.6 M36.4,410.5h4.5 M36.9,407.7v7.9 M36.1,406.4v10.6 M35.6,407.4h6.7 M36.4,409.9h5.4 M50.0,406.0h4.4 M47.0,410.3h4.2 M47.8,410.6v9.5 M49.5,410.5h5.2 M48.2,406.5h8.6 M46.7,406.8h4.3 M67.5,409.3v10.0 M61.9,412.4h8.1 M60.2,409.3h4.4 M67.7,410.7v9.7 M67.2,407.6v4.0 M92.2,406.5v7.9 M88.9,417.2h8.1 M85.7,416.1h8.8 M88.6,406.2h6.1 M92.6,408.7v9.9 M99.4,407.9v10.3 M98.2,414.6h7.9 M101.3,409.7v3.7 M100.4,417.5h9.8 M98.1,406.3v5.3 M100.6,417.4h6.4 M112.5,412.5h8.6 M121.3,407.1v5.2 M116.6,406.7v5.4 M112.8,407.1h8.5 M112.9,410.2h7.4 M126.0,407.9h9.4 M125.7,409.8v6.4 M124.8,417.6h9.6 M126.7,408.9v10.2 M124.5,410.2h5.0 M133.3,407.6v9.5 M156.6,409.1v4.0 M153.2,410.3v9.3 M159.0,408.2v8.4 M152.1,406.5v6.3 M150.9,407.8h9.1 M166.4,414.7h4.1 M165.1,409.2v6.9 M166.5,417.8h6.1 M170.1,406.5v6.5 M173.8,409.2v7.8 M189.3,411.8h7.5 M190.7,408.8v8.9 M192.5,416.1h3.4 M190.0,407.0h3.6 M190.2,409.0h6.2 M191.9,415.5h3.8 M203.8,415.0h6.4 M203.4,408.7h5.2 M204.1,413.8h4.6 M205.2,413.4h8.2 M218.6,415.9h8.7 M215.9,406.6h9.7 M225.9,408.5v3.9 M224.9,408.2v3.1 M215.6,411.9h4.3 M224.6,408.2v8.1 M216.6,408.0v3.0 M230.4,409.9h5.4 M229.1,414.0h8.5 M231.2,412.6h3.8 M228.7,410.7v3.2 M232.1,406.9v6.2 M228.5,411.0h6.7 M229.5,417.6h6.0 M244.3,413.8h5.8 M244.1,406.5v3.3 M241.8,416.5h6.1 M244.0,406.8v7.2 M244.6,417.3h4.7 M256.7,413.4h8.5 M258.8,409.8v3.8 M258.5,408.5v9.5 M258.0,410.0v3.7 M256.6,412.0h8.7 M260.6,406.4v5.3 M258.9,408.9v5.5 M281.2,413.9h3.4 M282.3,411.1h4.5 M289.5,409.4v5.3 M280.2,408.3v5.6 M294.4,412.2h5.6 M294.2,416.0h5.2 M295.1,417.0h7.2 M295.7,408.2v6.7 M40.1,431.0v7.5 M33.7,437.4h4.8 M35.1,429.3v8.7 M33.4,434.9h6.3 M40.6,427.2v4.5 M61.2,435.0h9.8 M60.6,434.9h5.8 M61.0,428.7h5.4 M59.4,427.4v8.5 M59.7,433.7h5.5 M68.8,429.3v5.7 M69.8,431.5v4.5 M74.3,428.9h4.5 M72.6,428.2h8.0 M73.3,437.2h8.9 M73.6,430.2h3.1 M72.1,431.6h9.0 M86.6,438.3h4.7 M90.1,429.1v8.3 M85.9,432.4h3.4 M85.4,431.2v9.1 M98.6,436.8h6.8 M98.8,431.8h8.0 M106.6,430.1v7.8 M106.9,429.8v5.6 M102.1,427.5v5.7 M108.2,430.2v8.3 M106.6,429.2v6.7 M118.6,427.9v3.9 M118.5,430.5v4.7 M111.8,435.0h5.3 M116.3,427.2v9.7 M111.6,429.2v3.5 M114.0,437.6h6.5 M132.6,429.9v4.9 M125.6,432.9h7.5 M126.4,430.9h10.0 M124.0,431.0h3.7 M127.3,432.1h7.9 M150.1,428.9v5.1 M150.7,429.7v6.0 M150.4,431.9h8.1 M156.6,427.6v7.8 M160.9,430.8v3.4 M157.3,428.4v10.4 M159.8,428.2v7.6 M169.6,427.3v5.5 M164.6,436.9h9.2 M170.3,429.2v10.1 M169.4,427.7v8.9 M163.2,437.8h5.0 M164.6,430.5v8.6 M179.2,434.8h4.7 M178.8,429.7h6.7 M179.6,429.9v10.6 M186.5,428.2v7.1 M179.2,431.2h4.2 M189.2,428.4v6.9 M190.8,431.2v6.2 M189.3,438.1h5.3 M190.2,428.6h7.9 M190.3,431.0v7.1 M192.3,436.8h4.5 M215.6,431.6v5.1 M217.0,429.2v7.2 M225.8,431.9v4.0 M216.6,435.5h4.0 M219.9,431.0v7.8 M230.7,430.5v8.4 M231.1,436.3h5.1 M231.1,430.4h6.3 M229.8,427.5v5.8 M229.8,427.4v9.0 M228.3,435.0h4.7 M242.3,429.0v4.6 M245.8,428.7v6.6 M244.5,437.2h3.5 M241.5,430.5h6.1 M244.5,429.3h8.6 M241.4,434.5h3.8 M242.7,432.3h6.5 M254.6,436.2h6.0 M259.3,428.9v9.7 M258.1,427.6v8.1 M264.2,430.3v5.5 M255.8,430.5h6.3" fill="none" stroke="#666" stroke-opacity="0.06" stroke-width="1.4" filter="url(#gb)"/>
<text x="18.40" y="56.70" font-family="Liberation Serif" font-size="13.8" fill="#1e1e1e" stroke="#1e1e1e" stroke-width="0.35" >47</text>
<text x="58.80" y="56.70" font-family="Liberation Serif" font-size="13.8" fill="#1e1e1e" stroke="#1e1e1e" stroke-width="0.35" >C5</text>
<path d="M48.7,45.5 L53.9,45.5 M51.3,42.9 L51.3,48.1" fill="none" stroke="#1e1e1e" stroke-width="1.0"/>
<text x="139.30" y="55.00" font-family="Liberation Serif" font-size="13.8" fill="#1e1e1e" stroke="#1e1e1e" stroke-width="0.35"  textLength="45.76" lengthAdjust="spacing">(A1013)</text>
<text x="139.30" y="71.50" font-family="Liberation Serif" font-size="13.8" fill="#1e1e1e" stroke="#1e1e1e" stroke-width="0.35"  textLength="49.02" lengthAdjust="spacing">MSPA92</text>
<text x="116.90" y="89.90" font-family="Liberation Serif" font-size="13.8" fill="#1e1e1e" stroke="#1e1e1e" stroke-width="0.35" >Q3</text>
<text x="200.00" y="79.30" font-family="Liberation Serif" font-size="13.8" fill="#1e1e1e" stroke="#1e1e1e" stroke-width="0.35" >221</text>
<text x="203.10" y="102.30" font-family="Liberation Serif" font-size="13.8" fill="#1e1e1e" stroke="#1e1e1e" stroke-width="0.35" >R<tspan font-size="6.5" dy="0.8">3</tspan></text>
<text x="175.50" y="119.30" font-family="Liberation Serif" font-size="13.8" fill="#1e1e1e" stroke="#1e1e1e" stroke-width="0.35" >R<tspan font-size="6.5" dy="0.8">4</tspan></text>
<text x="173.10" y="141.10" font-family="Liberation Serif" font-size="13.8" fill="#1e1e1e" stroke="#1e1e1e" stroke-width="0.35" >221</text>
<text x="235.80" y="51.50" font-family="Liberation Serif" font-size="13.8" fill="#1e1e1e" stroke="#1e1e1e" stroke-width="0.35" >R<tspan font-size="6.5" dy="0.8">1</tspan></text>
<text x="263.30" y="44.80" font-family="Liberation Serif" font-size="13.8" fill="#1e1e1e" stroke="#1e1e1e" stroke-width="0.35" >33</text>
<text x="263.30" y="59.60" font-family="Liberation Serif" font-size="13.8" fill="#1e1e1e" stroke="#1e1e1e" stroke-width="0.35" >2</text>
<text x="274.90" y="59.60" font-family="Liberation Serif" font-size="13.8" fill="#1e1e1e" stroke="#1e1e1e" stroke-width="0.35"  textLength="9.93" lengthAdjust="spacing">W</text>
<text x="223.30" y="122.10" font-family="Liberation Serif" font-size="13.8" fill="#1e1e1e" stroke="#1e1e1e" stroke-width="0.35" >G</text>
<text x="260.50" y="123.80" font-family="Liberation Serif" font-size="13.8" fill="#1e1e1e" stroke="#1e1e1e" stroke-width="0.35" >S</text>
<text x="222.70" y="141.90" font-family="Liberation Serif" font-size="13.8" fill="#1e1e1e" stroke="#1e1e1e" stroke-width="0.35" >Q<tspan font-size="6.5" dy="0.8">2</tspan></text>
<text x="261.50" y="155.90" font-family="Liberation Serif" font-size="13.8" fill="#1e1e1e" stroke="#1e1e1e" stroke-width="0.35" >D</text>
<text x="276.50" y="137.90" font-family="Liberation Serif" font-size="13.8" fill="#1e1e1e" stroke="#1e1e1e" stroke-width="0.35"  textLength="58.55" lengthAdjust="spacing">IRFP9240</text>
<text x="275.40" y="152.10" font-family="Liberation Serif" font-size="13.8" fill="#1e1e1e" stroke="#1e1e1e" stroke-width="0.35"  textLength="67.44" lengthAdjust="spacing">(IRFP9640)</text>
<text x="313.10" y="172.80" font-family="Liberation Serif" font-size="13.8" fill="#1e1e1e" stroke="#1e1e1e" stroke-width="0.35"  textLength="63.06" lengthAdjust="spacing">(6800 &#956; F)</text>
<text x="281.00" y="174.70" font-family="Liberation Serif" font-size="13.8" fill="#1e1e1e" stroke="#1e1e1e" stroke-width="0.35" >C<tspan font-size="6.5" dy="0.8">3</tspan></text>
<path d="M279.9,181.0 L284.7,181.0 M282.3,178.6 L282.3,183.4" fill="none" stroke="#1e1e1e" stroke-width="1.0"/>
<text x="277.20" y="210.30" font-family="Liberation Serif" font-size="13.8" fill="#1e1e1e" stroke="#1e1e1e" stroke-width="0.35"  textLength="30.95" lengthAdjust="spacing">2 200</text>
<text x="282.50" y="229.70" font-family="Liberation Serif" font-size="13.8" fill="#1e1e1e" stroke="#1e1e1e" stroke-width="0.35" >C<tspan font-size="6.5" dy="0.8">4</tspan></text>
<path d="M280.1,238.5 L284.9,238.5 M282.5,236.1 L282.5,240.9" fill="none" stroke="#1e1e1e" stroke-width="1.0"/>
<text x="277.50" y="266.90" font-family="Liberation Serif" font-size="13.8" fill="#1e1e1e" stroke="#1e1e1e" stroke-width="0.35"  textLength="30.95" lengthAdjust="spacing">2 200</text>
<text x="279.20" y="278.30" font-family="Liberation Serif" font-size="13.8" fill="#1e1e1e" stroke="#1e1e1e" stroke-width="0.35"  textLength="25.27" lengthAdjust="spacing">35 V</text>
<text x="263.30" y="292.50" font-family="Liberation Serif" font-size="13.8" fill="#1e1e1e" stroke="#1e1e1e" stroke-width="0.35" >D</text>
<text x="258.20" y="306.50" font-family="Liberation Serif" font-size="13.8" fill="#1e1e1e" stroke="#1e1e1e" stroke-width="0.35"  textLength="60.34" lengthAdjust="spacing">(IRFP640)</text>
<text x="263.10" y="323.90" font-family="Liberation Serif" font-size="13.8" fill="#1e1e1e" stroke="#1e1e1e" stroke-width="0.35"  textLength="50.15" lengthAdjust="spacing">IRFP140</text>
<text x="227.20" y="302.10" font-family="Liberation Serif" font-size="13.8" fill="#1e1e1e" stroke="#1e1e1e" stroke-width="0.35" >Q<tspan font-size="6.5" dy="0.8">1</tspan></text>
<text x="224.50" y="320.30" font-family="Liberation Serif" font-size="13.8" fill="#1e1e1e" stroke="#1e1e1e" stroke-width="0.35" >G</text>
<text x="263.10" y="344.60" font-family="Liberation Serif" font-size="13.8" fill="#1e1e1e" stroke="#1e1e1e" stroke-width="0.35" >S</text>
<text x="320.00" y="226.80" font-family="Liberation Serif" font-size="13.8" fill="#1e1e1e" stroke="#1e1e1e" stroke-width="0.35"  textLength="66.48" lengthAdjust="spacing">(1 &#956; FCBB)</text>
<text x="394.30" y="216.60" font-family="Liberation Serif" font-size="13.8" fill="#1e1e1e" stroke="#1e1e1e" stroke-width="0.35"  textLength="33.66" lengthAdjust="spacing">-OUT</text>
<text x="394.30" y="247.90" font-family="Liberation Serif" font-size="13.8" fill="#1e1e1e" stroke="#1e1e1e" stroke-width="0.35"  textLength="33.74" lengthAdjust="spacing">+OUT</text>
<text x="22.30" y="160.30" font-family="Liberation Serif" font-size="13.8" fill="#1e1e1e" stroke="#1e1e1e" stroke-width="0.35" >R<tspan font-size="6.5" dy="0.8">6</tspan></text>
<text x="53.10" y="160.30" font-family="Liberation Serif" font-size="13.8" fill="#1e1e1e" stroke="#1e1e1e" stroke-width="0.35"  textLength="34.90" lengthAdjust="spacing">4.75 k</text>
<text x="113.30" y="160.30" font-family="Liberation Serif" font-size="13.8" fill="#1e1e1e" stroke="#1e1e1e" stroke-width="0.35" >R<tspan font-size="6.5" dy="0.8">7</tspan></text>
<text x="143.50" y="160.30" font-family="Liberation Serif" font-size="13.8" fill="#1e1e1e" stroke="#1e1e1e" stroke-width="0.35" >4.75 k</text>
<text x="153.30" y="231.90" font-family="Liberation Serif" font-size="13.8" fill="#1e1e1e" stroke="#1e1e1e" stroke-width="0.35" >R<tspan font-size="6.5" dy="0.8">8</tspan></text>
<text x="184.50" y="231.90" font-family="Liberation Serif" font-size="13.8" fill="#1e1e1e" stroke="#1e1e1e" stroke-width="0.35"  textLength="34.50" lengthAdjust="spacing">22.1 k</text>
<text x="20.50" y="283.30" font-family="Liberation Serif" font-size="13.8" fill="#1e1e1e" stroke="#1e1e1e" stroke-width="0.35"  textLength="38.53" lengthAdjust="spacing">INPUT</text>
<text x="33.80" y="299.30" font-family="Liberation Serif" font-size="13.8" fill="#1e1e1e" stroke="#1e1e1e" stroke-width="0.35" >J1</text>
<text x="82.00" y="294.90" font-family="Liberation Serif" font-size="13.8" fill="#1e1e1e" stroke="#1e1e1e" stroke-width="0.35" >47</text>
<path d="M93.2,312.6 L98.8,312.6 M96.0,309.8 L96.0,315.4" fill="none" stroke="#1e1e1e" stroke-width="1.0"/>
<text x="82.50" y="329.30" font-family="Liberation Serif" font-size="13.8" fill="#1e1e1e" stroke="#1e1e1e" stroke-width="0.35" >C<tspan font-size="6.5" dy="0.8">6</tspan></text>
<text x="121.00" y="299.30" font-family="Liberation Serif" font-size="13.8" fill="#1e1e1e" stroke="#1e1e1e" stroke-width="0.35"  textLength="33.50" lengthAdjust="spacing">4.75 k</text>
<text x="132.50" y="322.50" font-family="Liberation Serif" font-size="13.8" fill="#1e1e1e" stroke="#1e1e1e" stroke-width="0.35" >R<tspan font-size="6.5" dy="0.8">5</tspan></text>
<text x="49.20" y="362.90" font-family="Liberation Serif" font-size="13.8" fill="#1e1e1e" stroke="#1e1e1e" stroke-width="0.35" >R<tspan font-size="6.5" dy="0.8">9</tspan></text>
<text x="76.90" y="362.90" font-family="Liberation Serif" font-size="13.8" fill="#1e1e1e" stroke="#1e1e1e" stroke-width="0.35"  textLength="34.10" lengthAdjust="spacing">47.5 k</text>
<text x="157.20" y="353.30" font-family="Liberation Serif" font-size="13.8" fill="#1e1e1e" stroke="#1e1e1e" stroke-width="0.35" >P<tspan font-size="6.5" dy="0.8">1</tspan></text>
<text x="184.90" y="362.00" font-family="Liberation Serif" font-size="13.8" fill="#1e1e1e" stroke="#1e1e1e" stroke-width="0.35"  textLength="21.95" lengthAdjust="spacing">10 k</text>
<text x="209.50" y="377.30" font-family="Liberation Serif" font-size="13.8" fill="#1e1e1e" stroke="#1e1e1e" stroke-width="0.35" >Z<tspan font-size="6.5" dy="0.8">1</tspan></text>
<text x="201.50" y="391.30" font-family="Liberation Serif" font-size="13.8" fill="#1e1e1e" stroke="#1e1e1e" stroke-width="0.35" >9.1 V</text>
<text x="297.90" y="360.60" font-family="Liberation Serif" font-size="13.8" fill="#1e1e1e" stroke="#1e1e1e" stroke-width="0.35" >R<tspan font-size="6.5" dy="0.8">2</tspan></text>
<text x="327.20" y="354.30" font-family="Liberation Serif" font-size="13.8" fill="#1e1e1e" stroke="#1e1e1e" stroke-width="0.35"  textLength="19.50" lengthAdjust="spacing">100</text>
<text x="328.00" y="367.90" font-family="Liberation Serif" font-size="13.8" fill="#1e1e1e" stroke="#1e1e1e" stroke-width="0.35" >1</text>
<text x="338.70" y="367.90" font-family="Liberation Serif" font-size="13.8" fill="#1e1e1e" stroke="#1e1e1e" stroke-width="0.35"  textLength="8.63" lengthAdjust="spacing">W</text>
<text x="358.50" y="29.00" font-family="Liberation Serif" font-size="13.8" fill="#1e1e1e" stroke="#1e1e1e" stroke-width="0.35" >C<tspan font-size="6.5" dy="0.8">1</tspan></text>
<text x="359.00" y="43.30" font-family="Liberation Serif" font-size="13.8" fill="#1e1e1e" stroke="#1e1e1e" stroke-width="0.35"  textLength="37.45" lengthAdjust="spacing">10 000</text>
<path d="M359.2,47.4 L364.4,47.4 M361.8,44.8 L361.8,50.0" fill="none" stroke="#1e1e1e" stroke-width="1.0"/>
<text x="440.20" y="28.70" font-family="Liberation Serif" font-size="13.8" fill="#1e1e1e" stroke="#1e1e1e" stroke-width="0.35" >C<tspan font-size="6.5" dy="0.8">2</tspan></text>
<text x="441.50" y="42.80" font-family="Liberation Serif" font-size="13.8" fill="#1e1e1e" stroke="#1e1e1e" stroke-width="0.35"  textLength="37.45" lengthAdjust="spacing">10 000</text>
<path d="M442.3,47.4 L447.5,47.4 M444.9,44.8 L444.9,50.0" fill="none" stroke="#1e1e1e" stroke-width="1.0"/>
<text x="536.10" y="44.30" font-family="Liberation Serif" font-size="13.8" fill="#1e1e1e" stroke="#1e1e1e" stroke-width="0.35"  textLength="56.11" lengthAdjust="spacing">25 A 50 V</text>
<text x="515.90" y="72.10" font-family="Liberation Serif" font-size="13.8" fill="#1e1e1e" stroke="#1e1e1e" stroke-width="0.35" >BR1</text>
<text x="448.40" y="179.10" font-family="Liberation Serif" font-size="13.8" fill="#1e1e1e" stroke="#1e1e1e" stroke-width="0.35"  textLength="49.72" lengthAdjust="spacing">25 V 5 A</text>
<text x="493.40" y="207.30" font-family="Liberation Serif" font-size="13.8" fill="#1e1e1e" stroke="#1e1e1e" stroke-width="0.35" >T1</text>
<text x="574.30" y="297.70" font-family="Liberation Serif" font-size="13.8" fill="#1e1e1e" stroke="#1e1e1e" stroke-width="0.35" >F1</text>
<text x="598.50" y="297.70" font-family="Liberation Serif" font-size="13.8" fill="#1e1e1e" stroke="#1e1e1e" stroke-width="0.35" >5 A</text>
<text x="516.90" y="370.80" font-family="Liberation Serif" font-size="13.8" fill="#1e1e1e" stroke="#1e1e1e" stroke-width="0.35"  textLength="72.56" lengthAdjust="spacing">GNDEARTH</text>
<text x="301.4" y="457.6" font-family="Liberation Sans" font-size="16.8" fill="#5a5a5a" textLength="30.5" lengthAdjust="spacingAndGlyphs">PASS</text>
<text x="341.4" y="457.6" font-family="Liberation Sans" font-size="16.8" fill="#5a5a5a" textLength="31.3" lengthAdjust="spacingAndGlyphs">ZEN1</text>
<text x="274.5" y="458.0" font-family="Liberation Sans" font-size="16.8" fill="#5a5a5a" textLength="6" lengthAdjust="spacingAndGlyphs">1</text>
<path d="M259.5,446.2 h11 v12.4 h-11 Z M263.0,448.2 l-1.5,2.2 M263.0,448.4 h4.2 l-4.5,4 M263.5,449.8 l3.8,3 M263.5,454.2 l3,1 M262.7,456.2 l4.5,1.4" fill="none" stroke="#5a5a5a" stroke-width="1.1"/>
<path d="M378.8,445.8 h10 M379.3,445.8 v6 q0,4 -1.5,6.5 M383.3,446.8 l-0.8,1.5 M381.3,448.3 h6 v4.2 h-6 Z M381.3,450.40000000000003 h6 M384.3,452.5 v5 l-1,-0.8 M382.3,454.3 l-1.5,2.2 M386.3,454.3 l1.8,2" fill="none" stroke="#5a5a5a" stroke-width="1.1"/>
<path d="M393.5,447.0 h4.5 M393.8,451.5 h4 M395.7,447.0 v9 M393.5,456.5 l4.8,-1.8 M399.5,446.0 h7 v7 h-7 Z M399.5,449.5 h7 M403.0,446.0 v11 M400.0,455.0 h6 M399.0,457.4 h8" fill="none" stroke="#5a5a5a" stroke-width="1.1"/>
<path d="M411.2,446.0 h11 v12.4 h-11 Z M414.7,448.0 l-1.5,2.2 M414.7,448.2 h4.2 l-4.5,4 M415.2,449.6 l3.8,3 M415.2,454.0 l3,1 M414.4,456.0 l4.5,1.4" fill="none" stroke="#5a5a5a" stroke-width="1.1"/>
</g>
</svg>
</body></html>
